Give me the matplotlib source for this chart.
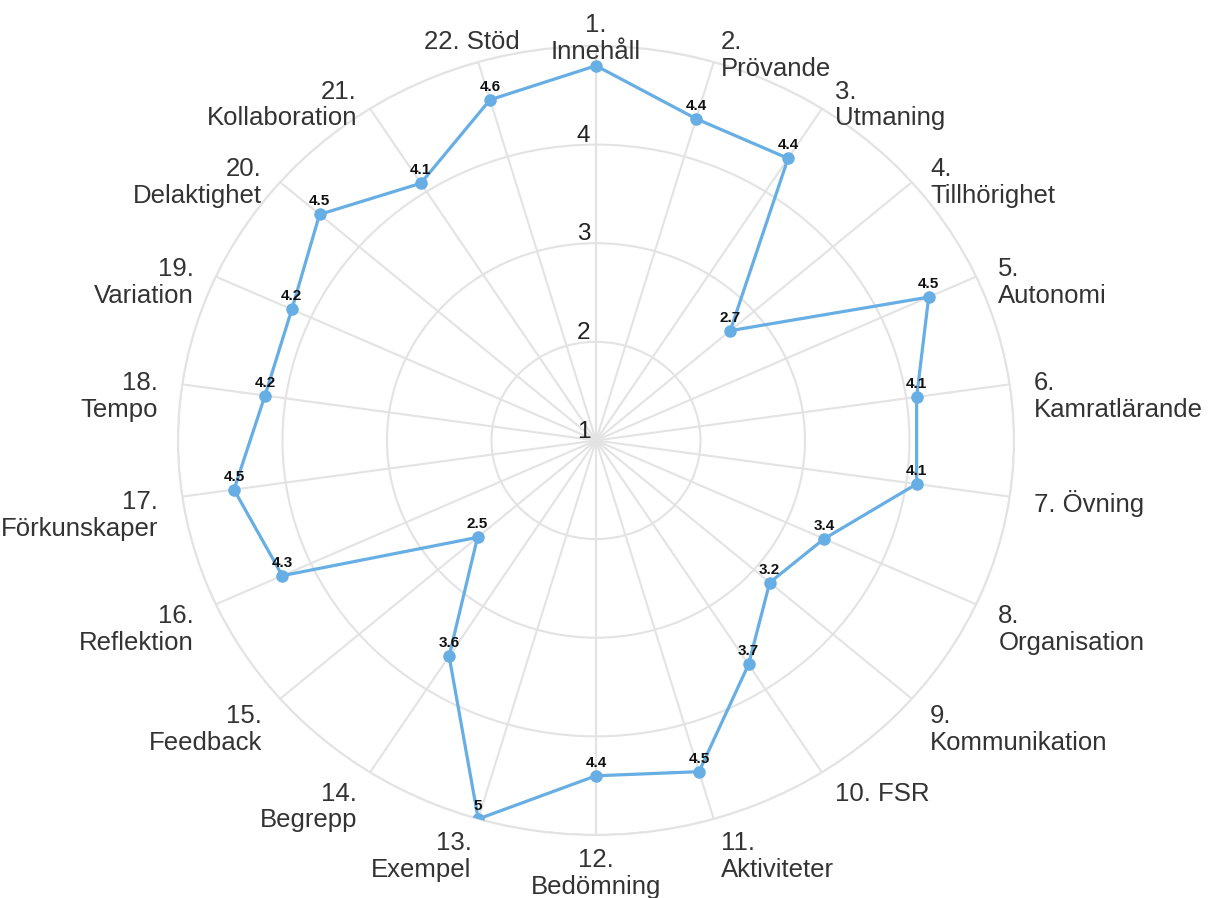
import numpy as np
import matplotlib.pyplot as plt

plt.rcParams['font.family'] = ['Liberation Sans', 'DejaVu Sans']

# category labels (multi-line like the original)
categories = [
    ['1.', 'Innehåll'], ['2.', 'Prövande'], ['3.', 'Utmaning'],
    ['4.', 'Tillhörighet'], ['5.', 'Autonomi'], ['6.', 'Kamratlärande'],
    ['7. Övning'], ['8.', 'Organisation'], ['9.', 'Kommunikation'],
    ['10. FSR'], ['11.', 'Aktiviteter'], ['12.', 'Bedömning'],
    ['13.', 'Exempel'], ['14.', 'Begrepp'], ['15.', 'Feedback'],
    ['16.', 'Reflektion'], ['17.', 'Förkunskaper'], ['18.', 'Tempo'],
    ['19.', 'Variation'], ['20.', 'Delaktighet'], ['21.', 'Kollaboration'],
    ['22. Stöd'],
]
values = [4.8, 4.4, 4.4, 2.7, 4.5, 4.1, 4.1, 3.4, 3.2, 3.7, 4.5,
          4.4, 5.0, 3.6, 2.5, 4.3, 4.5, 4.2, 4.2, 4.5, 4.1, 4.6]
hidden_value_labels = [0]   # label of item 1 is covered in the original
r_ticks = [1, 2, 3, 4]
r_grid = [2, 3, 4, 5]
r_min, r_max = 1, 5

LINE_COLOR = '#66aee3'
GRID_COLOR = '#e3e3e3'
TEXT_COLOR = '#333333'

n = len(values)
theta = np.arange(n) * 2 * np.pi / n

fig = plt.figure(figsize=(12.1, 8.98), dpi=100)
ax = fig.add_axes([0.1471, 0.0702, 0.6909, 0.8786], projection='polar')
ax.set_aspect('auto')  # original is slightly stretched sideways
ax.set_theta_zero_location('N')
ax.set_theta_direction(-1)
ax.set_ylim(r_min, r_max)

ax.set_xticks(theta)
ax.set_xticklabels([''] * n)
ax.set_yticks(r_grid)
ax.set_yticklabels([''] * len(r_grid))
ax.tick_params(length=0)
ax.grid(True, color=GRID_COLOR, lw=1.5)
ax.spines['polar'].set_color(GRID_COLOR)
ax.spines['polar'].set_linewidth(1.5)

# closed polygon
th_c = np.append(theta, theta[0])
v_c = np.append(values, values[0])
ax.plot(th_c, v_c, color=LINE_COLOR, lw=2.3, zorder=3)
ax.plot(theta, values, 'o', color=LINE_COLOR, ms=8, zorder=4)

# value labels above points
for i, (t, v) in enumerate(zip(theta, values)):
    if i in hidden_value_labels:
        continue
    ax.annotate(f'{v:g}', xy=(t, v), xytext=(0, 6.5), textcoords='offset points',
                ha='center', va='baseline', fontsize=11, fontweight='bold',
                color='#111111', zorder=5)

# radial tick labels along the vertical axis
for r in r_ticks:
    ax.annotate(str(r), xy=(0, r), xytext=(-4, 2), textcoords='offset points',
                ha='right', va='baseline', fontsize=17.5, color='#222222')

# category labels around the outside
r_label = r_min + (r_max - r_min) * 1.058
for i, (t, lab) in enumerate(zip(theta, categories)):
    deg = np.degrees(t)
    if np.isclose(deg, 0) or np.isclose(deg, 180) or i == n - 1:
        ha = 'center'
    elif deg < 180:
        ha = 'left'
    else:
        ha = 'right'
    ax.annotate('\n'.join(lab), xy=(t, r_label), xytext=(0, 7),
                textcoords='offset points', ha=ha, va='top',
                multialignment=ha, fontsize=18.5, color=TEXT_COLOR,
                linespacing=1.13, annotation_clip=False)

fig.savefig('out.png', dpi=100)
